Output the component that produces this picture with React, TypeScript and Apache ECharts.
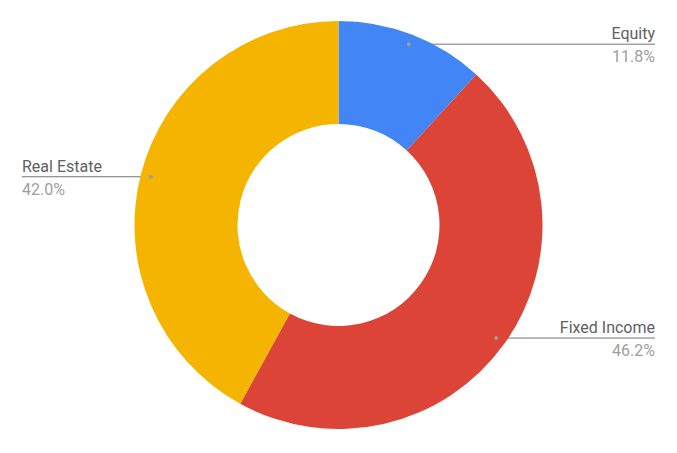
import React, { useEffect, useRef } from "react";
import * as echarts from "echarts";

const categories = ["Equity", "Fixed Income", "Real Estate"];
const values = [11.8, 46.2, 42.0];
const colors = ["#4285F4", "#DB4437", "#F4B400"];

const CX = 338.5;
const CY = 225;
const R_IN = 101;
const R_OUT = 204;
const R_DOT = 194;
const RIGHT_X = 655;
const LEFT_X = 22;

function anchors() {
  const total = values.reduce((a, b) => a + b, 0);
  let acc = 0;
  return values.map((v) => {
    const mid = ((acc + v / 2) / total) * Math.PI * 2;
    acc += v;
    return { x: CX + R_DOT * Math.sin(mid), y: CY - R_DOT * Math.cos(mid) };
  });
}

export default function App() {
  const ref = useRef<HTMLDivElement>(null);
  useEffect(() => {
    document.body.style.margin = "0";
    const chart = echarts.init(ref.current!, undefined, { renderer: "svg" });
    const pts = anchors();
    chart.setOption({
      animation: false,
      backgroundColor: "#ffffff",
      series: [
        {
          type: "pie",
          center: [CX, CY],
          radius: [R_IN, R_OUT],
          startAngle: 90,
          clockwise: true,
          percentPrecision: 1,
          data: categories.map((c, i) => ({
            name: c,
            value: values[i],
            itemStyle: { color: colors[i] },
          })),
          emphasis: { disabled: true },
          label: {
            show: true,
            formatter: (p: any) => `{n|${p.name}}\n{p|${Number(p.percent).toFixed(1)}%}`,
            rich: {
              n: { fontFamily: "Roboto", fontSize: 16, color: "#616161", lineHeight: 23 },
              p: { fontFamily: "Roboto", fontSize: 16, color: "#9e9e9e", lineHeight: 23 },
            },
          },
          labelLine: {
            show: true,
            lineStyle: { color: "#757575", width: 1 },
          },
          labelLayout: (params: any) => {
            const a = pts[params.dataIndex];
            const right = a.x >= CX;
            return {
              x: right ? RIGHT_X : LEFT_X,
              y: a.y + 1,
              align: right ? "right" : "left",
              verticalAlign: "middle",
              labelLinePoints: right
                ? [[a.x, a.y], [RIGHT_X, a.y]]
                : [[a.x, a.y], [LEFT_X, a.y]],
            };
          },
        },
      ],
      graphic: pts.map((a) => ({
        type: "circle",
        shape: { cx: a.x, cy: a.y, r: 2 },
        style: { fill: "#9e9e9e" },
        z: 100,
      })),
    });
    return () => chart.dispose();
  }, []);
  return <div ref={ref} style={{ width: 677, height: 453 }} />;
}
